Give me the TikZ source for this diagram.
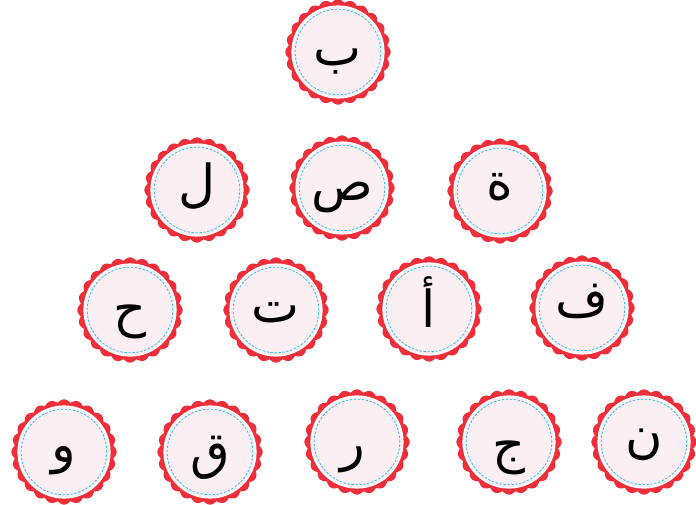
\documentclass[tikz,border=0pt]{standalone}
\usepackage{fontspec}
\newfontfamily\arabicfont[Script=Arabic]{DejaVu Sans}
\TeXXeTstate=1
\definecolor{badgered}{HTML}{EE2F3A}
\definecolor{badgepink}{HTML}{FCEFF3}
\definecolor{badgecyan}{HTML}{2CC0EE}
\tikzset{
  badge/.pic={
    \fill[badgered] plot[domain=0:360, samples=481] (\x:{49.6pt+3pt*abs(cos(12*\x))}) -- cycle;
    \fill[white] (0,0) circle (46.6pt);
    \fill[badgepink] (0,0) circle (45pt);
    \draw[badgecyan, line width=0.8pt, dash pattern=on 2.4pt off 1.6pt] (0,0) circle (42.8pt);
  },
  letter/.style={anchor=base, inner sep=0pt, font=\arabicfont\fontsize{51}{60}\selectfont}
}
\begin{document}
\begin{tikzpicture}[x=1pt, y=-1pt]
\useasboundingbox (0,0) rectangle (696,504);
% row 1
\pic at (338,52) {badge}; \node[letter] (b1) at (338,65) {\beginR ب\endR};
% row 2
\pic at (197,190) {badge}; \node[letter] (l1) at (197,201) {\beginR ل\endR};
\pic at (342,188) {badge}; \node[letter] (s1) at (342,200) {\beginR ص\endR};
\pic at (500,191) {badge}; \node[letter] (t1) at (500,199) {\beginR ة\endR};
% row 3
\pic at (130,310) {badge}; \node[letter] (h1) at (130,326) {\beginR ح\endR};
\pic at (276,310) {badge}; \node[letter] (ta) at (276,322) {\beginR ت\endR};
\pic at (429,309) {badge}; \node[letter] (a1) at (429,327) {\beginR أ\endR};
\pic at (582,308) {badge}; \node[letter] (f1) at (582,316) {\beginR ف\endR};
% row 4
\pic at (64,452) {badge}; \node[letter] (w1) at (64,462) {\beginR و\endR};
\pic at (210,452) {badge}; \node[letter] (q1) at (210,468) {\beginR ق\endR};
\pic at (357,442) {badge}; \node[letter] (r1) at (353,460) {\beginR ر\endR};
\pic at (509,442) {badge}; \node[letter] (j1) at (509,462) {\beginR ج\endR};
\pic at (644,442) {badge}; \node[letter] (n1) at (644,452) {\beginR ن\endR};
\end{tikzpicture}
\end{document}
